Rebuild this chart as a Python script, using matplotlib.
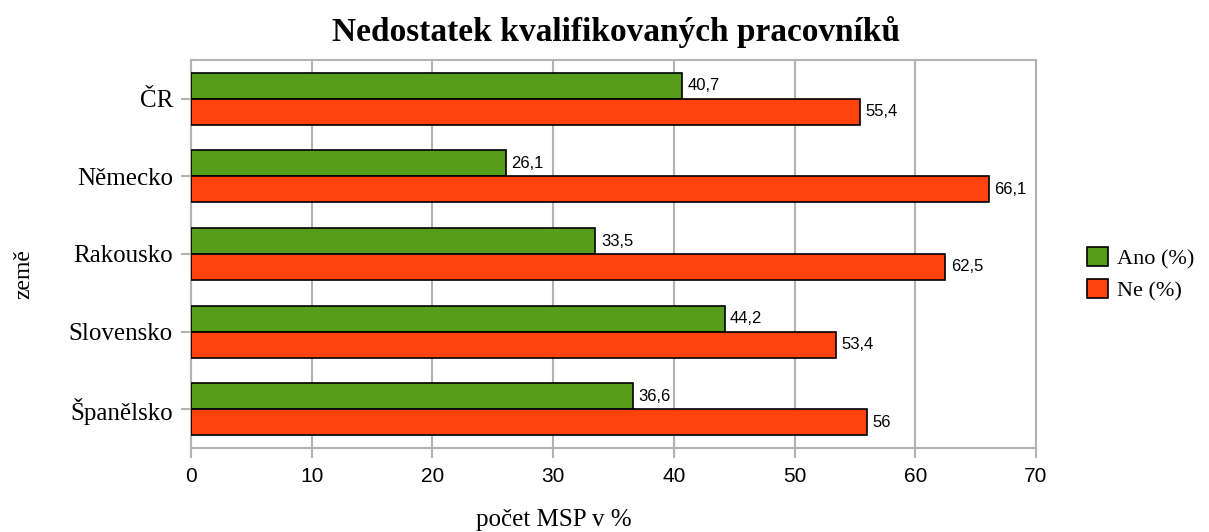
import matplotlib
matplotlib.use("Agg")
import matplotlib.pyplot as plt
import numpy as np
from matplotlib.patches import Patch

categories = ["ČR", "Německo", "Rakousko", "Slovensko", "Španělsko"]
ano = [40.7, 26.1, 33.5, 44.2, 36.6]
ne = [55.4, 66.1, 62.5, 53.4, 56.0]
series_names = ["Ano (%)", "Ne (%)"]
xticks = [0, 10, 20, 30, 40, 50, 60, 70]

green = "#579d1c"
red = "#ff420e"
grid_c = "#b3b3b3"
serif = ["Liberation Serif", "DejaVu Serif"]
sans = ["Liberation Sans", "DejaVu Sans"]

fig = plt.figure(figsize=(12.09, 5.32), dpi=100)
ax = fig.add_axes([191/1209, 1-448/532, (1036-191)/1209, (448-60)/532])

n = len(categories)
y = np.arange(n)[::-1].astype(float)
h = 0.335

def fmt(v):
    s = ("%.1f" % v).rstrip("0").rstrip(".")
    return s.replace(".", ",")

b1 = ax.barh(y + h/2, ano, height=h, color=green, edgecolor="black", linewidth=1.2, zorder=3)
b2 = ax.barh(y - h/2, ne, height=h, color=red, edgecolor="black", linewidth=1.2, zorder=3)
for bars, vals in ((b1, ano), (b2, ne)):
    for rect, v in zip(bars, vals):
        ax.annotate(fmt(v), (v, rect.get_y() + rect.get_height()/2), xytext=(4, 0),
                    textcoords="offset points", va="center", ha="left",
                    fontsize=12, family=sans, zorder=4)

ax.set_xlim(0, 70)
ax.set_ylim(-0.5, n - 0.5)
ax.set_xticks(xticks)
ax.set_xticklabels([str(t) for t in xticks], family=sans, fontsize=15)
ax.set_yticks(y)
ax.set_yticklabels(categories, family=serif, fontsize=18)
ax.tick_params(axis="x", length=7, color=grid_c, width=1.5, pad=7)
ax.tick_params(axis="y", length=7, color=grid_c, width=1.5, pad=6)
ax.grid(axis="x", color=grid_c, linewidth=1.5, zorder=0)
for s in ax.spines.values():
    s.set_color(grid_c)
    s.set_linewidth(1.5)

fig.text(616/1209, 1-32/532, "Nedostatek kvalifikovaných pracovníků", family=serif,
         fontsize=24, fontweight="bold", ha="center", va="center")
fig.text(554/1209, 1-520/532, "počet MSP v %", family=serif, fontsize=18,
         ha="center", va="center")
fig.text(24/1209, 1-274/532, "země", family=serif, fontsize=17, rotation=90,
         ha="center", va="center")

handles = [Patch(facecolor=green, edgecolor="black", linewidth=1.2),
           Patch(facecolor=red, edgecolor="black", linewidth=1.2)]
fig.legend(handles, series_names, loc="center left", bbox_to_anchor=(1087/1209, 1-274/532),
           frameon=False, prop={"family": serif, "size": 16}, handlelength=0.95,
           handleheight=0.95, handletextpad=0.4, labelspacing=0.45,
           borderpad=0, borderaxespad=0)

fig.savefig("out.png", dpi=100)
